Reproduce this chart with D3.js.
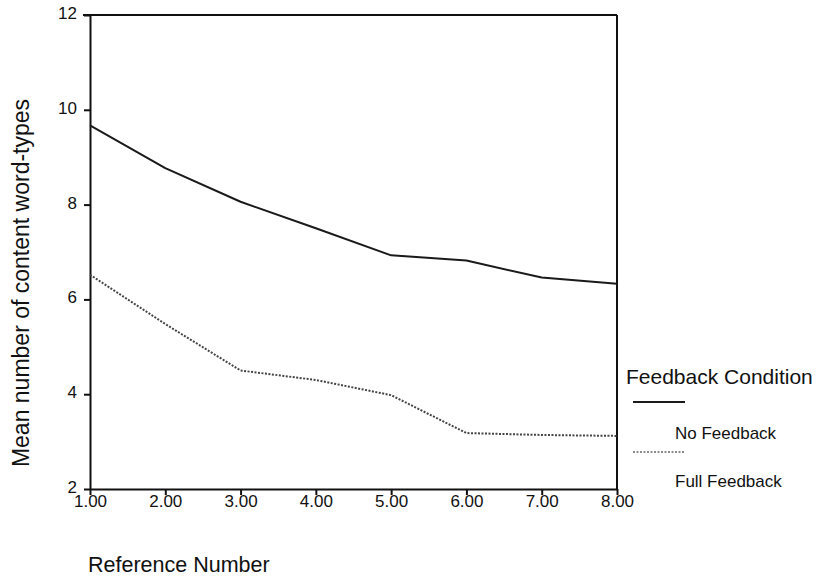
<!DOCTYPE html>
<head>
    <meta charset="utf-8">
    <title>Feedback Condition</title>
    <script src="https://d3js.org/d3.v7.min.js"></script>
</head>

<body>
<svg id="chart" width="819" height="577"></svg>
</body>

<script>
    // chart data
    var refNumbers = [1, 2, 3, 4, 5, 6, 7, 8]
    var noFeedback = [9.67, 8.77, 8.06, 7.5, 6.93, 6.82, 6.46, 6.33]
    var fullFeedback = [6.52, 5.48, 4.5, 4.3, 3.98, 3.18, 3.14, 3.12]
    var yTicks = [2, 4, 6, 8, 10, 12]
    var xTicks = [1, 2, 3, 4, 5, 6, 7, 8]

    var svg = d3.select("#chart")
    var font = "'Liberation Sans', Arial, sans-serif"

    var x = d3.scaleLinear().domain([1, 8]).range([90, 617])
    var y = d3.scaleLinear().domain([2, 12]).range([489, 15])

    // frame: top and right edges
    svg.append("line").attr("x1", 83).attr("x2", 617).attr("y1", y(12)).attr("y2", y(12))
        .attr("stroke", "#111").attr("stroke-width", 2)
    svg.append("line").attr("x1", 617).attr("x2", 617).attr("y1", y(12)).attr("y2", y(2))
        .attr("stroke", "#111").attr("stroke-width", 2)

    var yAxis = svg.append("g").attr("transform", "translate(" + x(1) + ",0)")
        .call(d3.axisLeft(y).tickValues(yTicks).tickSize(6).tickSizeOuter(0).tickFormat(d3.format("d")))
    var xAxis = svg.append("g").attr("transform", "translate(0," + y(2) + ")")
        .call(d3.axisBottom(x).tickValues(xTicks).tickSize(6).tickSizeOuter(0).tickFormat(d3.format(".2f")))

    svg.selectAll(".domain").attr("stroke", "#111").attr("stroke-width", 2)
    svg.selectAll(".tick line").attr("stroke", "#111").attr("stroke-width", 2)
    svg.selectAll(".tick text").attr("font-family", font).attr("font-size", 17).attr("fill", "#111")
    yAxis.selectAll(".tick text").attr("x", -13).attr("dy", "0.2em")
    xAxis.selectAll(".tick text").attr("y", 6)

    var line = d3.line()
        .x(function(d, i) { return x(refNumbers[i]) })
        .y(function(d) { return y(d) })

    svg.append("path").datum(noFeedback).attr("d", line)
        .attr("fill", "none").attr("stroke", "#1a1a1a").attr("stroke-width", 2)
        .attr("stroke-linejoin", "round")
    svg.append("path").datum(fullFeedback).attr("d", line)
        .attr("fill", "none").attr("stroke", "#444").attr("stroke-width", 2)
        .attr("stroke-dasharray", "2,1.5")

    // axis titles
    svg.append("text").attr("transform", "translate(29,283) rotate(-90)")
        .attr("text-anchor", "middle").attr("font-family", font).attr("font-size", 23)
        .attr("fill", "#111").text("Mean number of content word-types")
    svg.append("text").attr("x", 88).attr("y", 572)
        .attr("font-family", font).attr("font-size", 21.5)
        .attr("fill", "#111").text("Reference Number")

    // legend
    svg.append("text").attr("x", 626).attr("y", 384)
        .attr("font-family", font).attr("font-size", 21).attr("fill", "#111").text("Feedback Condition")
    svg.append("line").attr("x1", 633).attr("x2", 685).attr("y1", 402).attr("y2", 402)
        .attr("stroke", "#1a1a1a").attr("stroke-width", 2)
    svg.append("text").attr("x", 675).attr("y", 439)
        .attr("font-family", font).attr("font-size", 17).attr("fill", "#111").text("No Feedback")
    svg.append("line").attr("x1", 633).attr("x2", 685).attr("y1", 452).attr("y2", 452)
        .attr("stroke", "#666").attr("stroke-width", 1.5).attr("stroke-dasharray", "2,1.5")
    svg.append("text").attr("x", 675).attr("y", 487)
        .attr("font-family", font).attr("font-size", 17).attr("fill", "#111").text("Full Feedback")

</script>

<style>
    html, body {
        margin: 0;
        background: #fff;
    }
</style>

</html>
